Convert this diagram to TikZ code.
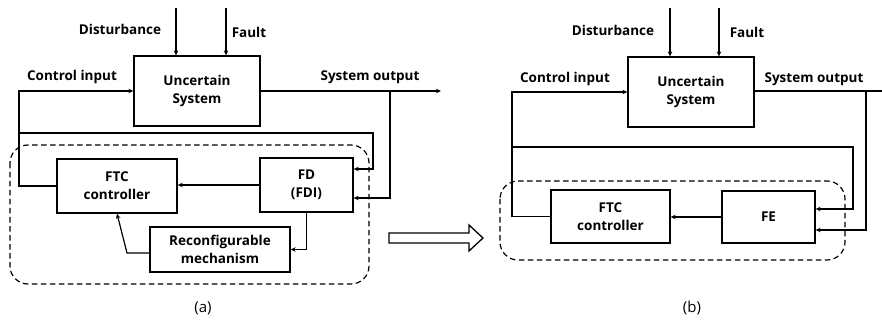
\documentclass[tikz,border=0pt]{standalone}
\usepackage{fontspec}
\setmainfont{Open Sans}
\usetikzlibrary{arrows.meta,calc}
\begin{document}
\begin{tikzpicture}[x=1pt,y=-1pt,
  line width=1.2pt,
  arr/.style={-{Stealth[length=5pt,width=4.5pt]}},
  blk/.style={draw,line width=1.3pt,align=center,inner sep=0pt,font=\fontsize{13.5}{18}\selectfont\bfseries},
  lbl/.style={font=\fontsize{13.5}{16}\selectfont\bfseries,inner sep=0pt},
  captxt/.style={font=\fontsize{15}{17}\selectfont,inner sep=0pt},
  dashbox/.style={draw,dashed,dash pattern=on 5.5pt off 3.5pt,rounded corners=18pt,line width=1.2pt}]
\useasboundingbox (0,0) rectangle (882,320);
% ---------- (a) ----------
\node[blk,minimum width=126pt,minimum height=70pt] (Ua) at (197,91) {Uncertain\\System};
\node[blk,minimum width=120pt,minimum height=54pt] (FTCa) at (117,186) {FTC\\controller};
\node[blk,minimum width=93pt,minimum height=54pt] (FD) at (306.5,185) {FD\\(FDI)};
\node[blk,minimum width=140pt,minimum height=45pt] (RM) at (220,249.5) {Reconfigurable\\mechanism};
\draw[dashbox] (10,145) rectangle (369,284);
\node[lbl] (dta) at (120,29) {Disturbance};
\node[lbl] (fta) at (249,32) {Fault};
\node[lbl] (cia) at (72,77) {Control input};
\node[lbl] (soa) at (370,77) {System output};
\node[captxt] (capa) at (203,308) {(a)};
\coordinate (da) at (176,8);
\coordinate (fa) at (226,8);
\draw[arr] (da) -- (da |- Ua.north);
\draw[arr] (fa) -- (fa |- Ua.north);
\coordinate (ca) at (19,91);
\draw[arr] (FTCa.west) -| (ca) -- (Ua.west);
\coordinate (cb) at (19,133);
\coordinate (cc) at (373,133);
\draw[arr] (cb) -- (cc) |- ([yshift=16pt]FD.east);
\coordinate (oa) at (441,91);
\draw[arr] (Ua.east) -- (oa);
\coordinate (ob) at (390,91);
\draw[arr] (ob) |- ([yshift=-13pt]FD.east);
\draw[arr] (FD.west) -- (FD.west -| FTCa.east);
\draw[arr] (FD.south) |- (RM.east);
\coordinate (rm1) at (127,253);
\draw[arr] ([yshift=-3.5pt]RM.west) -- (rm1) -- (FTCa.south);
% ---------- hollow arrow ----------
\draw[line width=1.3pt] (389,233) -- (469,233) -- (469,225) -- (483,238) -- (469,251) -- (469,243) -- (389,243) -- cycle;
% ---------- (b) ----------
\node[blk,minimum width=126pt,minimum height=70pt] (Ub) at (691,92) {Uncertain\\System};
\node[blk,minimum width=119pt,minimum height=53pt] (FTCb) at (610.5,216.5) {FTC\\controller};
\node[blk,minimum width=93pt,minimum height=52pt] (FE) at (768.5,217) {FE};
\draw[dashbox] (500,181) rectangle (845,260);
\node[lbl] (dtb) at (613,30) {Disturbance};
\node[lbl] (ftb) at (747,32) {Fault};
\node[lbl] (cib) at (565,79) {Control input};
\node[lbl] (sob) at (814,79) {System output};
\node[captxt] (capb) at (692,308) {(b)};
\coordinate (db) at (670,8);
\coordinate (fb) at (719,8);
\draw[arr] (db) -- (db |- Ub.north);
\draw[arr] (fb) -- (fb |- Ub.north);
\coordinate (cd) at (512,92);
\draw[arr] (FTCb.west) -| (cd) -- (Ub.west);
\coordinate (ce) at (512,147);
\coordinate (cf) at (853,147);
\draw[arr] (ce) -- (cf) |- ([yshift=8pt]FE.east);
\coordinate (oc) at (882,91);
\draw (Ub.east |- oc) -- (oc);
\coordinate (od) at (866,91);
\draw[arr] (od) |- ([yshift=-13pt]FE.east);
\draw[arr] (FE.west) -- (FE.west -| FTCb.east);
\end{tikzpicture}
\end{document}
